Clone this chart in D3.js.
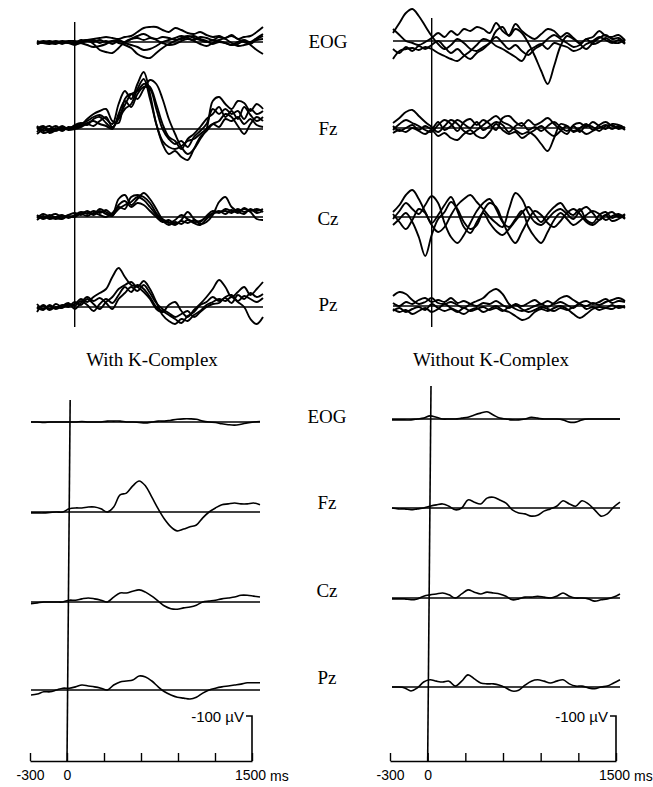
<!DOCTYPE html>
<html><head><meta charset="utf-8">
<script src="https://cdn.jsdelivr.net/npm/d3@7"></script>
<style>body{margin:0;background:#fff}svg{display:block}</style></head>
<body><svg id="c" width="653" height="787"></svg>
<script>
// ---------- data ----------
const times = [-300,-250,-200,-150,-100,-50,0,50,100,150,200,250,300,350,400,450,500,550,600,650,700,750,800,850,900,950,1000,1050,1100,1150,1200,1250,1300,1350,1400,1450,1500];
const channels = ["EOG","Fz","Cz","Pz"];
const conditions = ["With K-Complex","Without K-Complex"];
const timeTicks = [-300,0,300,600,900,1200,1500];
const timeTickLabels = ["-300","0","","","","","1500"];
const timeUnit = "ms";
const calibrationValue = -100;
const calibrationLabel = "-100 µV";

// individual subject averages, with K-complex (µV, negative up)
const withTrialsEOG = [
 [0,1,0,-1,0,1, 0, -1,-2,-3,-4,-5,-4, -3,-5,-6,-10,-14,-15, -15,-12,-10,-14,-12,-9, -8,-10,-7,-5,-6,-4, -7,-3,-5,-6,-10,-15],
 [2,0,1,2,0,1, 3, 0,-2,2,8,10,11, 6,0,-3,-4,-2,-4, -3,-5,-4,-2,-3,-5, -6,-3,-1,2,0,1, 3,0,-2,0,-4,-8],
 [-1,1,2,0,2,0, 2, 1,-1,0,-2,0,-1, 1,3,6,12,15,16, 11,6,2,-1,-4,-6, -4,-2,0,-2,-1,1, 3,2,-1,3,8,12],
 [1,-1,1,1,-1,0, 1, -2,-1,-2,1,-1,2, -1,1,3,5,8,7, 4,0,-2,-4,-6,-4, -2,-5,-4,-2,-5,-3, 1,4,3,1,-2,-3],
 [2,0,-1,1,0,-1, -1, 1,3,5,4,2,-1, -2,0,-3,-6,-8,-5, -2,1,3,2,-1,-3, -1,2,4,1,-2,-4, -6,-3,0,2,-3,-6]
];
const withTrialsFz = [
 [3,-2,4,1,-3,0, -3, -5,-8,-12,-14,-10,-5, -25,-38,-30,-45,-57,-35, -5,12,18,20,17,12, 10,5,0,-5,-2,-10, -8,-12,-5,-10,-4,-2],
 [-2,4,2,-1,2,-2, -1, -4,-10,-15,-18,-20,-8, -6,-30,-35,-30,-40,-49, -45,-30,-10,5,18,25, 20,10,0,-28,-32,-25, -20,-28,-26,-18,-25,-20],
 [5,0,-3,2,-1,1, 0, -2,-5,-3,-8,-12,-2, -10,-20,-25,-40,-50,-30, -5,15,25,22,28,31, 20,8,2,-5,-8,-15, -12,-3,5,-5,-12,-8],
 [-3,2,0,-3,1,-1, -2, -3,-6,-8,-5,-3,0, -15,-28,-22,-35,-42,-40, -20,0,10,15,12,18, 8,2,-5,-20,-15,-20, -15,-18,-10,-20,-15,-18],
 [0,-3,2,1,-2,0, -4, -6,-4,-10,-12,-6,-1, -12,-24,-35,-38,-45,-42, -25,-5,8,12,20,10, 5,-2,-10,-15,-22,-12, -18,-10,-22,-14,-8,-12]
];
const withTrialsCz = [
 [3,-1,2,0,-2,1, -2, -5,-3,-6,-4,-7,-3, -18,-22,-12,-18,-24,-18, -8,2,5,8,3,-5, 2,7,5,-2,-15,-20, -10,-6,-8,-5,2,3],
 [-2,2,-1,-3,0,-2, -4, -2,-6,-3,-8,-5,-2, -8,-12,-15,-20,-17,-10, -2,4,8,5,7,3, 6,8,2,-3,-5,-6, -4,-8,-5,-7,-6,-8],
 [1,-3,0,2,-1,0, -1, -3,-1,-4,-2,0,-4, -10,-8,-20,-22,-20,-14, -4,3,6,3,-2,2, 5,4,0,-4,-6,-3, -7,-4,-9,-6,-8,-5],
 [-1,1,-2,1,2,-1, 0, -4,-5,-2,-6,-3,-1, -12,-16,-10,-14,-12,-6, 0,5,3,7,4,6, 3,5,-1,-6,-4,-8, -6,-5,-3,-8,-4,-6]
];
const withTrialsPz = [
 [5,-2,2,-3,0,-2, -3, -8,-5,-10,-14,-18,-30, -39,-30,-22,-20,-15,-8, 2,5,-2,-5,4,10, 3,-3,-10,-18,-27,-20, -10,-15,-20,-12,-18,-25],
 [-3,2,-1,1,-2,0, -5, -2,-8,-3,2,-5,-10, -18,-22,-25,-20,-26,-18, -5,8,14,17,12,14, 8,4,-2,-5,-8,-6, -10,-5,0,12,17,10],
 [2,-1,3,0,1,-3, -1, -6,-2,4,-3,-8,-4, -12,-20,-15,-22,-18,-10, 0,4,8,12,16,9, 5,-2,-5,-10,-6,-9, -4,-12,-8,-14,-10,-13],
 [0,3,-2,2,-1,-4, 2, -4,-10,-6,-9,-4,2, -8,-14,-20,-16,-22,-14, -4,2,6,10,7,4, 10,5,0,-3,-4,-10, -12,-6,-11,-8,-5,-9]
];

// individual subject averages, without K-complex
const withoutTrialsEOG = [
 [-8,-18,-28,-32,-25,-15, -5, 3,8,4,-2,2,8, 10,6,2,-10,-14,-5, -12,-8,2,15,30,43, 25,5,-5,-2,3,8, 2,-3,-6,-2,-3,2],
 [-12,-6,0,2,4,1, -3, -8,-4,-10,-6,-12,-10, -14,-12,-8,-18,-10,-6, -17,-10,-5,-2,-7,-12, -10,-4,-8,-3,2,-2, -4,-10,-5,-4,-6,0],
 [18,10,8,7,9,6, 8, 12,15,18,20,15,10, 4,-2,0,5,8,12, 16,20,10,6,3,8, 2,4,6,10,8,3, 0,-4,-1,2,-1,3],
 [8,12,6,10,5,8, 4, 0,6,12,8,14,18, 12,8,2,-4,2,8, 4,10,14,8,4,-2, -6,-2,2,6,4,-2, 3,1,-3,1,2,-2]
];
const withoutTrialsFz = [
 [-5,-10,-16,-18,-12,-6, -1, 4,-2,-8,-4,3,6, 2,-3,-8,-12,-6,-3, 2,6,4,8,16,23, 10,-4,-2,3,0,-4, 2,-3,-6,-2,-1,1],
 [2,-4,-8,-5,-2,2, 4, -3,-8,-4,3,-6,-9, -3,-8,-4,2,-10,-12, -6,-2,-8,-3,-6,-10, -4,2,6,-3,-5,-1, -6,-2,1,-4,-3,0],
 [5,2,4,0,3,6, 2, 8,5,10,12,6,2, 8,10,4,-4,2,6, 4,10,6,2,-2,4, 8,3,-2,4,2,6, 3,0,-3,1,-2,2],
 [-2,3,0,-3,2,-2, 1, -6,2,-2,-8,-4,0, -6,2,-2,-6,-3,4, -2,-5,2,-1,3,-2, -6,-1,3,-2,4,-3, -1,3,-2,-3,1,-1]
];
const withoutTrialsCz = [
 [-5,-12,-22,-27,-18,-5, 8, 15,10,-2,-12,-18,-22, -15,-8,0,6,10,-8, -24,-18,-4,5,8,2, -5,-8,-3,2,-6,-10, -4,3,-2,-5,0,-3],
 [8,2,-4,5,20,39, 18, 2,-5,-15,-8,5,12, 8,-6,-14,-10,4,18, 26,15,3,-6,-2,6, 10,4,-4,-8,-3,5, 8,3,-2,4,2,-2],
 [2,-6,-14,-8,-3,-12, -21, -14,6,20,26,18,6, -6,-14,-18,-8,5,10, 2,-6,10,20,26,15, 3,-4,2,8,4,-2, -6,-3,3,-1,-3,1],
 [-3,5,12,3,-8,-4, 6, -2,-12,-20,-6,10,16, 5,-4,6,14,18,12, 4,-4,-10,-2,5,-3, -10,-14,-6,-2,-8,3, 6,-2,-5,1,-2,2]
];
const withoutTrialsPz = [
 [-10,-14,-12,-6,-2,-4, -8, -3,-2,-4,-1,2,-2, -5,-8,-14,-17,-12,-2, 3,5,3,0,-2,1, -3,-8,-10,-6,-2,0, -3,-1,-4,-6,-8,-5],
 [3,6,4,8,5,2, 6, 3,-2,2,5,8,4, 2,6,3,0,4,6, 10,14,12,6,3,5, 2,0,3,8,12,8, 3,1,2,-1,2,0],
 [-3,0,-4,-2,-6,-8, -4, -6,-4,-8,-3,-5,-2, 0,-3,-2,-5,-1,2, -2,0,-3,-6,-2,-5, -2,-4,-1,2,-3,-5, -2,-4,-7,-3,-5,-4],
 [5,2,6,3,1,4, -2, 2,5,3,6,2,5, 3,1,4,2,5,1, -1,3,6,4,1,3, 5,2,4,1,-2,3, 1,4,2,3,0,2]
];

// grand averages (µV, negative up)
const withAvgEOG = [0,0,1,0,0,0, 0, 0,-1,0,0,0,-2, -2,-2,0,0,1,2, 0,-2,-2,-4,-6,-7, -7,-6,-2,0,1,4, 6,7,5,2,0,-1];
const withAvgFz  = [2,2,2,1,0,0, -7, -9,-9,-11,-11,-7,0, -11,-38,-42,-58,-69,-58, -33,-7,16,33,42,38, 33,29,13,0,-9,-16, -18,-20,-18,-18,-20,-16];
const withAvgCz  = [4,2,0,0,0,0, -4, -4,-7,-9,-7,-4,0, -11,-20,-20,-24,-27,-22, -13,-2,9,15,16,13, 11,7,0,-2,-4,-7, -9,-11,-15,-15,-13,-11];
const withAvgPz  = [11,9,4,4,0,-4, -4, -7,-11,-9,-7,-4,0, -11,-18,-20,-22,-31,-29, -20,-7,4,11,16,18, 20,16,7,0,-4,-7, -9,-11,-13,-16,-16,-16];
const withoutAvgEOG = [2,2,2,2,0,-2, -7, -4,0,0,0,-2,-4, -9,-13,-16,-9,-2,0, 2,2,0,-4,-2,0, 0,0,2,7,7,2, 0,0,0,0,0,0];
const withoutAvgFz  = [0,2,2,4,2,0, -4, -7,-9,-4,4,0,-18, -13,-9,-22,-24,-18,-11, 4,11,13,18,16,7, 2,-4,-16,-9,-4,-16, -9,4,18,13,-2,-13];
const withoutAvgCz  = [2,2,2,4,2,-4, -7, -9,-11,-7,0,-9,-18, -13,-9,-13,-11,-9,-4, 4,2,-2,-2,-4,-2, 0,-4,-11,-4,0,0, 2,7,4,2,-2,-9];
const withoutAvgPz  = [0,0,2,9,2,-11, -16, -13,-11,-13,-2,-13,-27, -18,-9,-7,-7,-4,2, 9,7,-4,-13,-16,-13, -9,-13,-16,-7,-2,-2, 2,4,0,-2,-9,-16];

// ---------- drawing ----------
const svg = d3.select("#c");
const serif = "'Liberation Serif','Times New Roman',serif";
const sans = "'Liberation Sans',Arial,sans-serif";

const panels = [
  {xr:[37,263], zero:[[74.7,22],[74.7,327]], bases:[42,129,217,307], px100:100, sw:1.9,
   data:[withTrialsEOG,withTrialsFz,withTrialsCz,withTrialsPz]},
  {xr:[393,625], zero:[[431.7,18],[431.7,327]], bases:[41,128,217,306], px100:100, sw:1.9,
   data:[withoutTrialsEOG,withoutTrialsFz,withoutTrialsCz,withoutTrialsPz]},
  {xr:[31,260], bases:[422,512,602,690], px100:45, sw:1.6, axis:[30,252], zeroTop:400,
   data:[[withAvgEOG],[withAvgFz],[withAvgCz],[withAvgPz]]},
  {xr:[392,620], bases:[419,508,598,687], px100:45, sw:1.6, axis:[390,616], zeroTop:386,
   data:[[withoutAvgEOG],[withoutAvgFz],[withoutAvgCz],[withoutAvgPz]]}
];
const axisY = 761;

panels.forEach(p => {
  const x = d3.scaleLinear().domain([times[0], times[times.length-1]]).range(p.xr);
  const g = svg.append("g");
  p.bases.forEach((b, ci) => {
    const y = d3.scaleLinear().domain([0,100]).range([b, b + p.px100]);
    g.append("line").attr("x1", x(times[0])).attr("x2", x(times[times.length-1]))
      .attr("y1", y(0)).attr("y2", y(0)).attr("stroke", "#000").attr("stroke-width", 1.3);
    const line = d3.line().x((d,i) => x(times[i])).y(d => y(d)).curve(d3.curveCatmullRom.alpha(0.5));
    p.data[ci].forEach(tr => {
      g.append("path").attr("d", line(tr)).attr("fill","none").attr("stroke","#000")
        .attr("stroke-width", p.sw).attr("stroke-linejoin","round");
    });
  });
  if (p.zero) {
    g.append("line").attr("x1", p.zero[0][0]).attr("y1", p.zero[0][1]).attr("x2", p.zero[1][0]).attr("y2", p.zero[1][1])
      .attr("stroke","#000").attr("stroke-width",1.4);
  }
  if (p.axis) {
    const xa = d3.scaleLinear().domain([times[0], times[times.length-1]]).range(p.axis);
    // zero line from first trace down to axis
    g.append("line").attr("x1", x(0)+1).attr("y1", p.zeroTop).attr("x2", xa(0)).attr("y2", axisY)
      .attr("stroke","#000").attr("stroke-width",1.6);
    const ax = d3.axisBottom(xa).tickValues(timeTicks).tickSizeInner(-8).tickSizeOuter(0).tickPadding(9)
      .tickFormat((d,i) => timeTickLabels[i]);
    const ga = g.append("g").attr("transform", `translate(0,${axisY})`).call(ax);
    ga.select(".domain").attr("stroke-width",1.6);
    ga.selectAll(".tick line").attr("stroke-width",1.4);
    ga.selectAll("text").attr("font-family", sans).attr("font-size", 14).attr("fill","#000");
    ga.selectAll(".tick").filter(d => d === 1500).select("text").attr("dx", -2);
    g.append("text").attr("x", xa(1500)+18).attr("y", axisY+9+14*0.71+1)
      .attr("font-family", sans).attr("font-size", 14).text(timeUnit);
    // calibration bar
    const yc = d3.scaleLinear().domain([0,100]).range([axisY, axisY + 45]);
    g.append("path").attr("d", `M${xa(1500)-6},${yc(calibrationValue)}H${xa(1500)}V${axisY}`)
      .attr("fill","none").attr("stroke","#000").attr("stroke-width",1.6);
    g.append("text").attr("x", xa(1500)-8).attr("y", yc(calibrationValue)+6)
      .attr("text-anchor","end").attr("font-family", sans).attr("font-size", 15).text(calibrationLabel);
  }
});

// channel labels
const labelYTop = [48,135,225,311], labelYBottom = [423,509,597,684];
channels.forEach((c,i) => {
  svg.append("text").attr("x",328).attr("y",labelYTop[i]).attr("text-anchor","middle")
    .attr("font-family",serif).attr("font-size",19).text(c);
  svg.append("text").attr("x",327).attr("y",labelYBottom[i]).attr("text-anchor","middle")
    .attr("font-family",serif).attr("font-size",19).text(c);
});
// condition titles
[152,491].forEach((cx,i) => {
  svg.append("text").attr("x",cx).attr("y",366).attr("text-anchor","middle")
    .attr("font-family",serif).attr("font-size",19).text(conditions[i]);
});
</script></body></html>
